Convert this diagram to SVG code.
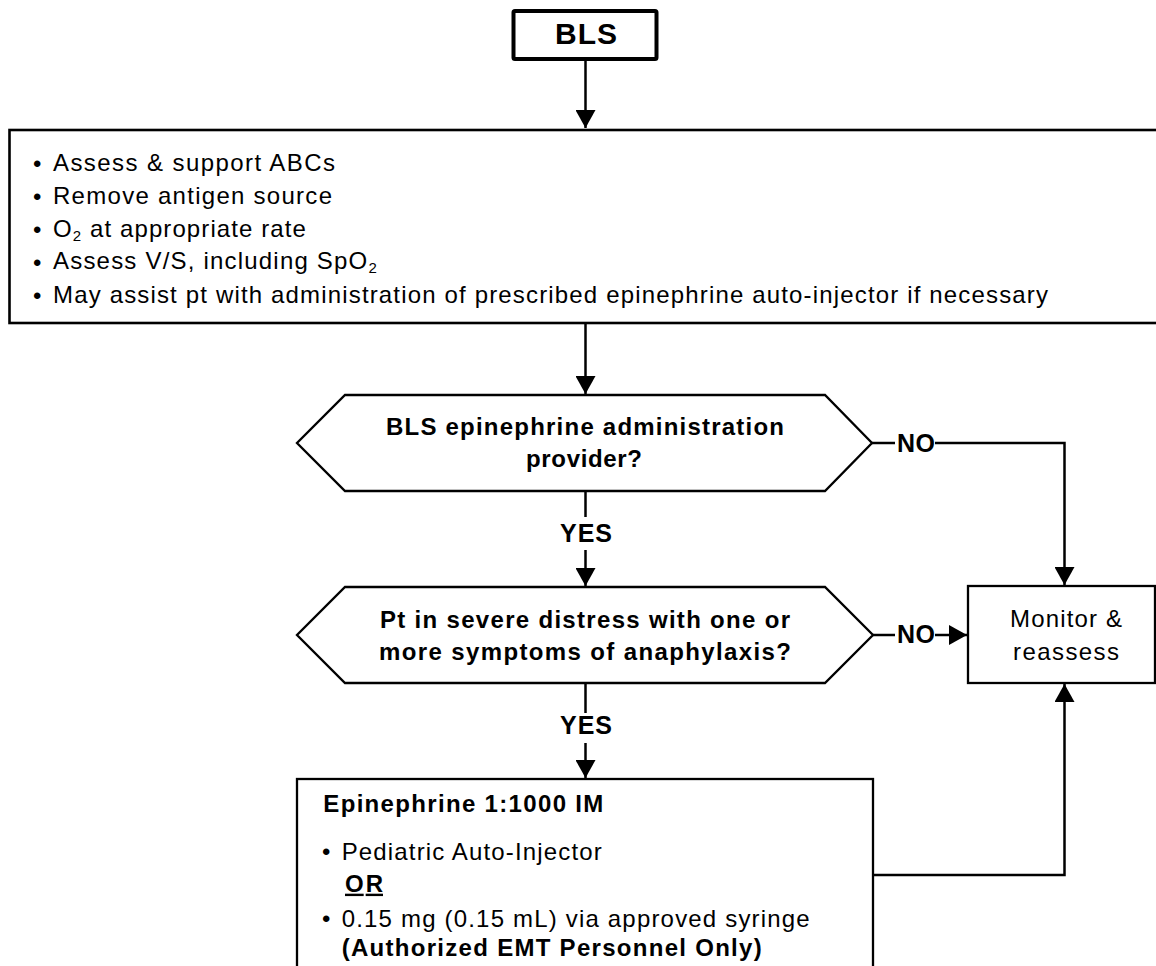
<svg xmlns="http://www.w3.org/2000/svg" width="1156" height="966" viewBox="0 0 1156 966">
<style>
text{font-family:"Liberation Sans",Arial,sans-serif;fill:#000;}
.r{font-size:24px;}
.b{font-size:24px;font-weight:bold;}
.l{font-size:25px;font-weight:bold;}
.shape{fill:#fff;stroke:#000;stroke-width:2.3;}
.conn{fill:none;stroke:#000;stroke-width:2.5;}
</style>
<defs>
<marker id="ah" markerUnits="userSpaceOnUse" markerWidth="18" markerHeight="20" refX="18" refY="10" orient="auto" viewBox="0 0 18 20">
<path d="M0,0 L18,10 L0,20 z" fill="#000"/>
</marker>
</defs>

<g id="connectors">
<path class="conn" d="M585.5,61 V128" marker-end="url(#ah)"/>
<path class="conn" d="M585.5,323 V394" marker-end="url(#ah)"/>
<path class="conn" d="M585.5,491 V517"/>
<path class="conn" d="M585.5,550 V586" marker-end="url(#ah)"/>
<path class="conn" d="M585.5,683 V713"/>
<path class="conn" d="M585.5,743 V778" marker-end="url(#ah)"/>
<path class="conn" d="M872,443 H895"/>
<path class="conn" d="M935,443 H1064.5 V585" marker-end="url(#ah)"/>
<path class="conn" d="M873,635 H895"/>
<path class="conn" d="M935,635 H967" marker-end="url(#ah)"/>
<path class="conn" d="M873,875 H1064.5 V684" marker-end="url(#ah)"/>
<text class="l" x="560" y="542" textLength="52">YES</text>
<text class="l" x="560" y="734" textLength="52">YES</text>
<text class="l" x="897" y="452" textLength="38">NO</text>
<text class="l" x="897" y="643" textLength="38">NO</text>
</g>

<g id="bls">
<rect x="513.5" y="11" width="143" height="48" rx="1.5" fill="#fff" stroke="#000" stroke-width="4"/>
<text x="555" y="44" font-size="30" font-weight="bold" textLength="62">BLS</text>
</g>

<g id="assess">
<rect x="9.5" y="130" width="1160" height="193" fill="#fff" stroke="#000" stroke-width="2.6"/>
<text class="r" x="33" y="172">•</text>
<text class="r" x="53" y="170.7" textLength="282">Assess &amp; support ABCs</text>
<text class="r" x="33" y="205.3">•</text>
<text class="r" x="53" y="204" textLength="279">Remove antigen source</text>
<text class="r" x="33" y="238">•</text>
<text class="r" x="53" y="236.7" letter-spacing="1.1">O<tspan font-size="15" dy="4">2</tspan><tspan dy="-4"> at appropriate rate</tspan></text>
<text class="r" x="33" y="270.6">•</text>
<text class="r" x="53" y="269.3" letter-spacing="1.2">Assess V/S, including SpO<tspan font-size="15" dy="4">2</tspan></text>
<text class="r" x="33" y="304">•</text>
<text class="r" x="53" y="302.7" textLength="995">May assist pt with administration of prescribed epinephrine auto-injector if necessary</text>
</g>

<g id="decision1">
<polygon class="shape" points="345,395 825,395 872,443 825,491 345,491 297,443"/>
<text class="b" x="386" y="435" textLength="398">BLS epinephrine administration</text>
<text class="b" x="526" y="467" textLength="116">provider?</text>
</g>

<g id="decision2">
<polygon class="shape" points="345,587 825,587 873,635 825,683 345,683 297,635"/>
<text class="b" x="585" y="628" text-anchor="middle" textLength="410">Pt in severe distress with one or</text>
<text class="b" x="585" y="660" text-anchor="middle" textLength="412">more symptoms of anaphylaxis?</text>
</g>

<g id="monitor">
<rect x="968" y="586" width="187" height="97" class="shape"/>
<text class="r" x="1010" y="626.7" textLength="112">Monitor &amp;</text>
<text class="r" x="1013" y="660" textLength="106">reassess</text>
</g>

<g id="epinephrine">
<rect x="297" y="779" width="576" height="220" class="shape" stroke-width="2.5"/>
<text class="b" x="323.3" y="811.7" textLength="280">Epinephrine 1:1000 IM</text>
<text class="r" x="322" y="860">•</text>
<text class="r" x="341.7" y="860" textLength="260">Pediatric Auto-Injector</text>
<text class="b" x="345" y="891.7" textLength="38" text-decoration="underline">OR</text>
<text class="r" x="322" y="926.7">•</text>
<text class="r" x="341.7" y="926.7" textLength="468">0.15 mg (0.15 mL) via approved syringe</text>
<text class="b" x="341.7" y="956" textLength="420">(Authorized EMT Personnel Only)</text>
</g>
</svg>
